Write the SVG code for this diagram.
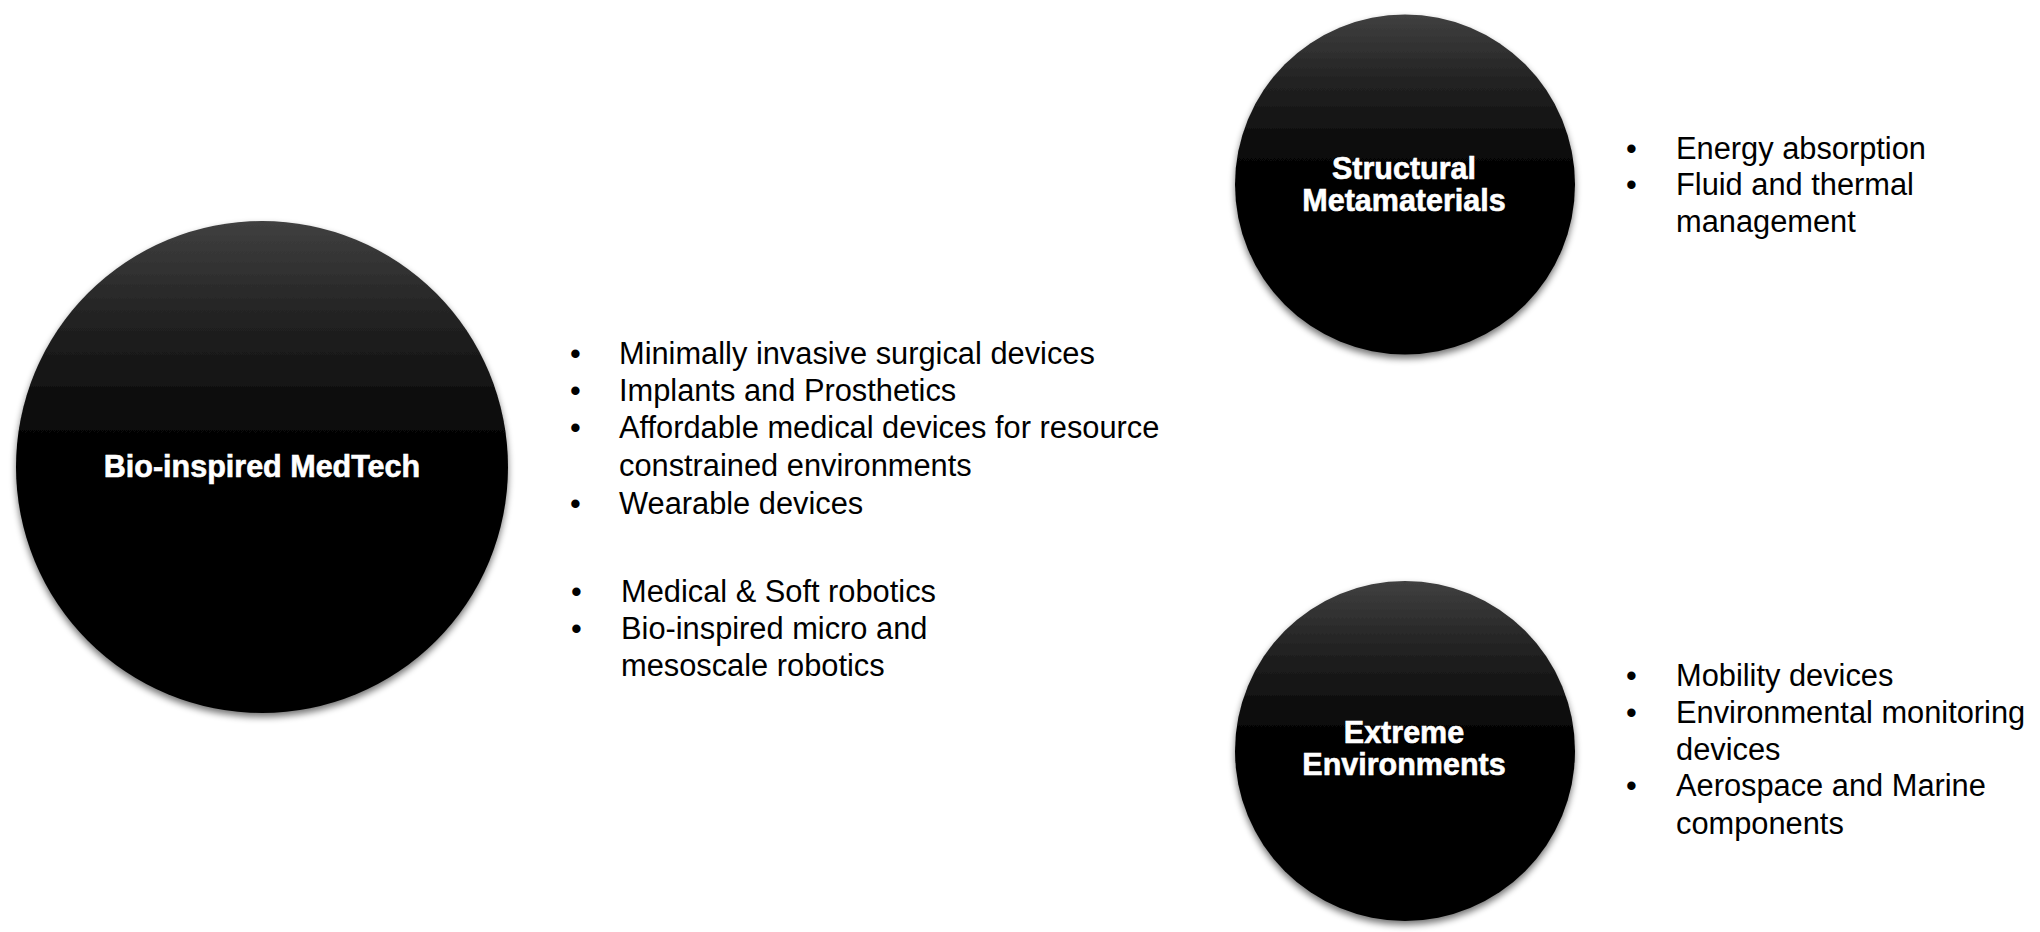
<svg xmlns="http://www.w3.org/2000/svg" width="2040" height="932" viewBox="0 0 2040 932">
<style>
.lbl{font-family:"Liberation Sans",Arial,sans-serif;font-weight:bold;font-size:30.5px;fill:#fff;stroke:#fff;stroke-width:0.6px;text-anchor:middle}
.txt{font-family:"Liberation Sans",Arial,sans-serif;font-size:30.8px;fill:#000}
.disc{fill:url(#g);filter:url(#sh)}
</style>
<defs>
<linearGradient id="g" x1="0" y1="0" x2="0" y2="1">
<stop offset="0" stop-color="#404040"/>
<stop offset="0.2" stop-color="#222"/>
<stop offset="0.48" stop-color="#000"/>
<stop offset="1" stop-color="#000"/>
</linearGradient>
<filter id="sh" x="-10%" y="-10%" width="120%" height="125%">
<feGaussianBlur in="SourceAlpha" stdDeviation="3.5"/>
<feOffset dy="4" result="b"/>
<feComponentTransfer><feFuncA type="linear" slope="0.55"/></feComponentTransfer>
<feMerge><feMergeNode/><feMergeNode in="SourceGraphic"/></feMerge>
</filter>
</defs>
<rect width="2040" height="932" fill="#fff"/>
<g id="connectors"/>
<g id="node-medtech">
<circle class="disc" cx="262" cy="467" r="246"/>
<text class="lbl" x="262" y="477">Bio-inspired MedTech</text>
</g>
<g id="node-metamaterials">
<circle class="disc" cx="1405" cy="184.5" r="170"/>
<text class="lbl" x="1404" y="178.5">Structural</text>
<text class="lbl" x="1404" y="211">Metamaterials</text>
</g>
<g id="node-extreme">
<circle class="disc" cx="1405" cy="751" r="170"/>
<text class="lbl" x="1404" y="743">Extreme</text>
<text class="lbl" x="1404" y="775">Environments</text>
</g>
<g id="list-medtech">
<text class="txt" x="570" y="364">•</text><text class="txt" x="619" y="364">Minimally invasive surgical devices</text>
<text class="txt" x="570" y="401">•</text><text class="txt" x="619" y="401">Implants and Prosthetics</text>
<text class="txt" x="570" y="438">•</text><text class="txt" x="619" y="438">Affordable medical devices for resource</text>
<text class="txt" x="619" y="475.5">constrained environments</text>
<text class="txt" x="570" y="513.5">•</text><text class="txt" x="619" y="513.5">Wearable devices</text>
<text class="txt" x="571" y="602">•</text><text class="txt" x="621" y="602">Medical &amp; Soft robotics</text>
<text class="txt" x="571" y="639">•</text><text class="txt" x="621" y="639">Bio-inspired micro and</text>
<text class="txt" x="621" y="676">mesoscale robotics</text>
</g>
<g id="list-metamaterials">
<text class="txt" x="1626" y="158.5">•</text><text class="txt" x="1676" y="158.5">Energy absorption</text>
<text class="txt" x="1626" y="195">•</text><text class="txt" x="1676" y="195">Fluid and thermal</text>
<text class="txt" x="1676" y="232">management</text>
</g>
<g id="list-extreme">
<text class="txt" x="1626" y="685.5">•</text><text class="txt" x="1676" y="685.5">Mobility devices</text>
<text class="txt" x="1626" y="722.5">•</text><text class="txt" x="1676" y="722.5">Environmental monitoring</text>
<text class="txt" x="1676" y="759.5">devices</text>
<text class="txt" x="1626" y="796">•</text><text class="txt" x="1676" y="796">Aerospace and Marine</text>
<text class="txt" x="1676" y="833.5">components</text>
</g>
</svg>
